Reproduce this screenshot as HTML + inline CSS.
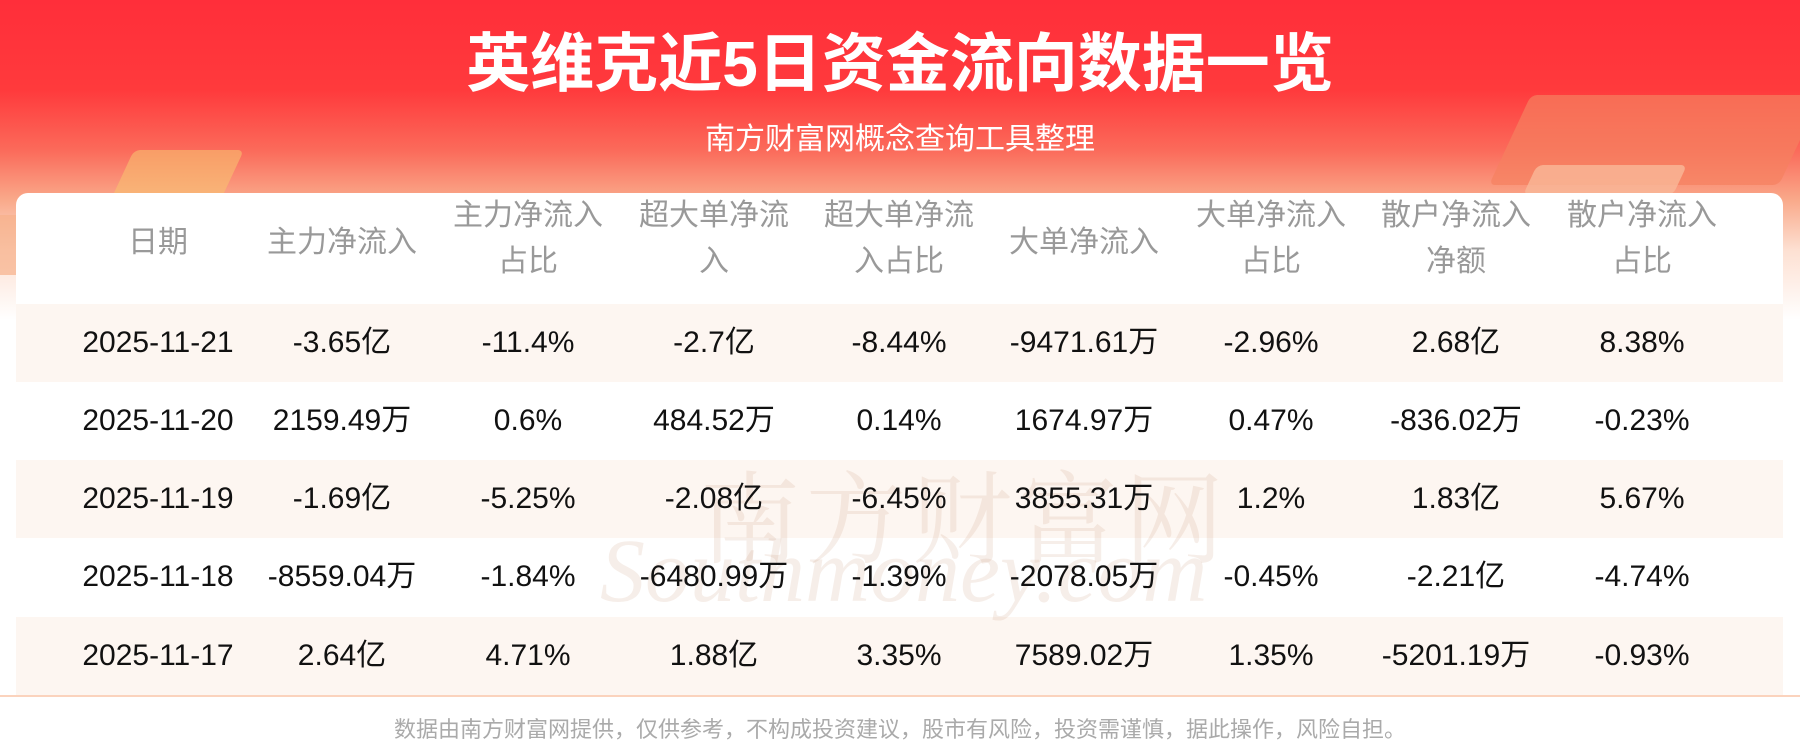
<!DOCTYPE html>
<html><head><meta charset="utf-8"><style>
*{margin:0;padding:0;box-sizing:border-box}
body{width:1800px;height:743px;overflow:hidden;background:#fff;font-family:"Liberation Sans","Noto Sans CJK SC",sans-serif;position:relative}
.bg{position:absolute;left:0;top:0;width:1800px;height:320px;background:linear-gradient(180deg,#ff2e3a 0px,#ff3a3c 90px,#fb6a5a 150px,#f9a98a 200px,#fde0d2 250px,#fff 320px)}
.deco{position:absolute;border-radius:6px;transform:skewX(-25deg)}
.t{position:absolute;left:0;width:1800px;text-align:center;color:#fff}
.card{position:absolute;left:16px;top:193px;width:1767px;height:520px;background:#fff;border-radius:12px 12px 0 0}
.row{position:absolute;left:16px;width:1767px;height:78px}
.c{position:absolute;width:186px;margin-left:-93px;text-align:center;white-space:nowrap}
.h .c{color:#999;font-size:30px;line-height:46px}
.d .c{color:#111;font-size:30px;line-height:78px;top:0}
.line{position:absolute;left:0;width:1800px;top:695px;height:2px;background:#fbd3bd}
.foot{position:absolute;left:0;width:1800px;top:712px;text-align:center;color:#aaa;font-size:22px}
.wm{position:absolute;color:rgba(200,150,120,0.16);font-family:"Liberation Serif","Noto Serif CJK SC",serif}
</style></head><body>
<div class="bg"></div>
<div class="deco" style="left:-20px;top:215px;width:130px;height:60px;background:#f7b08a;opacity:.7"></div>
<div class="deco" style="left:120px;top:150px;width:110px;height:60px;background:#f8c070;opacity:.6"></div>
<div class="deco" style="left:1510px;top:95px;width:290px;height:90px;background:#f58060;opacity:.7"></div>
<div class="deco" style="left:1530px;top:165px;width:150px;height:30px;background:#f9b899;opacity:.8"></div>
<div class="t" style="top:26px;font-size:64px;font-weight:bold;line-height:76px">英维克近5日资金流向数据一览</div>
<div class="t" style="top:122px;font-size:30px;line-height:36px">南方财富网概念查询工具整理</div>
<div class="card"></div>
<div class="row" style="top:304px;background:#fdf6f1"></div>
<div class="row" style="top:460px;background:#fdf6f1"></div>
<div class="row" style="top:617px;background:#fdf6f1"></div>
<div class="wm" style="left:700px;top:440px;font-size:100px;letter-spacing:6px">南方财富网</div>
<div class="wm" style="left:600px;top:520px;font-size:90px;font-style:italic">Southmoney.com</div>
<div class="h">
<div class="c" style="left:158px;top:220px">日期</div>
<div class="c" style="left:342px;top:220px">主力净流入</div>
<div class="c" style="left:528px;top:193px">主力净流入<br>占比</div>
<div class="c" style="left:714px;top:193px">超大单净流<br>入</div>
<div class="c" style="left:899px;top:193px">超大单净流<br>入占比</div>
<div class="c" style="left:1084px;top:220px">大单净流入</div>
<div class="c" style="left:1271px;top:193px">大单净流入<br>占比</div>
<div class="c" style="left:1456px;top:193px">散户净流入<br>净额</div>
<div class="c" style="left:1642px;top:193px">散户净流入<br>占比</div>
</div>
<div class="d" style="position:absolute;top:304px;left:0;width:1800px;height:78px">
<div class="c" style="left:158px">2025-11-21</div><div class="c" style="left:342px">-3.65亿</div><div class="c" style="left:528px">-11.4%</div><div class="c" style="left:714px">-2.7亿</div><div class="c" style="left:899px">-8.44%</div><div class="c" style="left:1084px">-9471.61万</div><div class="c" style="left:1271px">-2.96%</div><div class="c" style="left:1456px">2.68亿</div><div class="c" style="left:1642px">8.38%</div></div>
<div class="d" style="position:absolute;top:382px;left:0;width:1800px;height:78px">
<div class="c" style="left:158px">2025-11-20</div><div class="c" style="left:342px">2159.49万</div><div class="c" style="left:528px">0.6%</div><div class="c" style="left:714px">484.52万</div><div class="c" style="left:899px">0.14%</div><div class="c" style="left:1084px">1674.97万</div><div class="c" style="left:1271px">0.47%</div><div class="c" style="left:1456px">-836.02万</div><div class="c" style="left:1642px">-0.23%</div></div>
<div class="d" style="position:absolute;top:460px;left:0;width:1800px;height:78px">
<div class="c" style="left:158px">2025-11-19</div><div class="c" style="left:342px">-1.69亿</div><div class="c" style="left:528px">-5.25%</div><div class="c" style="left:714px">-2.08亿</div><div class="c" style="left:899px">-6.45%</div><div class="c" style="left:1084px">3855.31万</div><div class="c" style="left:1271px">1.2%</div><div class="c" style="left:1456px">1.83亿</div><div class="c" style="left:1642px">5.67%</div></div>
<div class="d" style="position:absolute;top:538px;left:0;width:1800px;height:78px">
<div class="c" style="left:158px">2025-11-18</div><div class="c" style="left:342px">-8559.04万</div><div class="c" style="left:528px">-1.84%</div><div class="c" style="left:714px">-6480.99万</div><div class="c" style="left:899px">-1.39%</div><div class="c" style="left:1084px">-2078.05万</div><div class="c" style="left:1271px">-0.45%</div><div class="c" style="left:1456px">-2.21亿</div><div class="c" style="left:1642px">-4.74%</div></div>
<div class="d" style="position:absolute;top:617px;left:0;width:1800px;height:78px">
<div class="c" style="left:158px">2025-11-17</div><div class="c" style="left:342px">2.64亿</div><div class="c" style="left:528px">4.71%</div><div class="c" style="left:714px">1.88亿</div><div class="c" style="left:899px">3.35%</div><div class="c" style="left:1084px">7589.02万</div><div class="c" style="left:1271px">1.35%</div><div class="c" style="left:1456px">-5201.19万</div><div class="c" style="left:1642px">-0.93%</div></div>
<div class="line"></div>
<div class="foot">数据由南方财富网提供，仅供参考，不构成投资建议，股市有风险，投资需谨慎，据此操作，风险自担。</div>
</body></html>
